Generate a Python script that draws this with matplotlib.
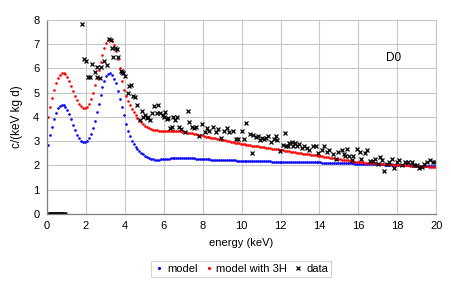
import matplotlib
matplotlib.use("Agg")
import matplotlib.pyplot as plt
import numpy as np

plt.rcParams['font.family'] = ['Liberation Sans', 'DejaVu Sans']

# energy grid of the model curves (keV), bin centres every 0.1 keV
energy_model = np.round(np.arange(0.05, 20.0, 0.1), 2)

model = [
    2.85, 3.25, 3.60, 3.92, 4.17, 4.35, 4.46, 4.50, 4.48, 4.40,
    4.27, 4.10, 3.90, 3.68, 3.47, 3.27, 3.11, 3.00, 2.95, 2.95,
    3.00, 3.12, 3.30, 3.55, 3.85, 4.20, 4.55, 4.90, 5.22, 5.50,
    5.68, 5.79, 5.80, 5.72, 5.58, 5.38, 5.08, 4.74, 4.40, 4.06,
    3.72, 3.43, 3.22, 3.02, 2.88, 2.76, 2.67, 2.60, 2.52, 2.45,
    2.39, 2.34, 2.30, 2.27, 2.25, 2.24, 2.24, 2.24, 2.25, 2.25,
    2.26, 2.27, 2.28, 2.29, 2.30, 2.30, 2.31, 2.31, 2.31, 2.31,
    2.31, 2.30, 2.30, 2.30, 2.29, 2.29, 2.28, 2.28, 2.27, 2.27,
    2.26, 2.26, 2.25, 2.25, 2.24, 2.24, 2.24, 2.23, 2.23, 2.23,
    2.22, 2.22, 2.22, 2.21, 2.21, 2.21, 2.21, 2.20, 2.20, 2.20,
    2.20, 2.20, 2.19, 2.19, 2.19, 2.19, 2.18, 2.18, 2.18, 2.18,
    2.17, 2.17, 2.17, 2.17, 2.17, 2.16, 2.16, 2.16, 2.16, 2.16,
    2.16, 2.15, 2.15, 2.15, 2.15, 2.15, 2.14, 2.14, 2.14, 2.14,
    2.14, 2.13, 2.13, 2.13, 2.13, 2.13, 2.12, 2.12, 2.12, 2.12,
    2.12, 2.11, 2.11, 2.11, 2.11, 2.10, 2.10, 2.10, 2.10, 2.10,
    2.09, 2.09, 2.09, 2.09, 2.08, 2.08, 2.08, 2.08, 2.07, 2.07,
    2.07, 2.07, 2.06, 2.06, 2.06, 2.06, 2.05, 2.05, 2.05, 2.05,
    2.04, 2.04, 2.04, 2.03, 2.03, 2.03, 2.03, 2.02, 2.02, 2.02,
    2.02, 2.01, 2.01, 2.01, 2.00, 2.00, 2.00, 2.00, 1.99, 1.99,
    1.99, 1.98, 1.98, 1.98, 1.97, 1.97, 1.97, 1.96, 1.96, 1.96,
]

model_3h = [
    4.00, 4.40, 4.80, 5.12, 5.40, 5.60, 5.73, 5.80, 5.80, 5.75,
    5.63, 5.47, 5.28, 5.08, 4.88, 4.70, 4.55, 4.43, 4.37, 4.37,
    4.42, 4.55, 4.75, 5.00, 5.30, 5.62, 5.95, 6.27, 6.57, 6.85,
    7.05, 7.18, 7.20, 7.12, 6.95, 6.72, 6.40, 6.00, 5.50, 5.11,
    4.88, 4.66, 4.48, 4.32, 4.20, 4.08, 3.97, 3.87, 3.79, 3.71,
    3.63, 3.58, 3.54, 3.51, 3.48, 3.46, 3.44, 3.43, 3.43, 3.42,
    3.42, 3.42, 3.42, 3.42, 3.42, 3.42, 3.41, 3.41, 3.40, 3.39,
    3.38, 3.37, 3.35, 3.34, 3.32, 3.31, 3.29, 3.27, 3.26, 3.24,
    3.21, 3.19, 3.18, 3.16, 3.14, 3.13, 3.11, 3.09, 3.08, 3.06,
    3.04, 3.03, 3.01, 2.99, 2.98, 2.96, 2.94, 2.93, 2.91, 2.90,
    2.88, 2.87, 2.86, 2.84, 2.83, 2.82, 2.81, 2.79, 2.78, 2.77,
    2.76, 2.74, 2.73, 2.72, 2.71, 2.69, 2.68, 2.67, 2.66, 2.64,
    2.63, 2.62, 2.61, 2.59, 2.58, 2.57, 2.56, 2.54, 2.53, 2.52,
    2.51, 2.49, 2.48, 2.47, 2.46, 2.44, 2.43, 2.42, 2.41, 2.39,
    2.38, 2.37, 2.36, 2.34, 2.33, 2.32, 2.31, 2.29, 2.28, 2.27,
    2.26, 2.24, 2.23, 2.22, 2.21, 2.19, 2.18, 2.17, 2.16, 2.15,
    2.14, 2.13, 2.12, 2.11, 2.11, 2.10, 2.09, 2.09, 2.08, 2.08,
    2.07, 2.07, 2.06, 2.06, 2.05, 2.05, 2.04, 2.04, 2.03, 2.03,
    2.02, 2.02, 2.01, 2.01, 2.00, 2.00, 1.99, 1.99, 1.98, 1.98,
    1.98, 1.97, 1.97, 1.96, 1.96, 1.96, 1.95, 1.95, 1.95, 1.94,
]

# measured points
energy_data = [
    0.05, 0.10, 0.15, 0.20, 0.25, 0.30, 0.35, 0.40, 0.45, 0.50,
    0.55, 0.60, 0.65, 0.70, 0.75, 0.80, 0.85, 0.90,
    1.78, 1.90, 2.00, 2.12, 2.21, 2.30, 2.48, 2.55, 2.59, 2.72,
    2.79, 2.93, 3.10, 3.20, 3.30, 3.32, 3.41, 3.50, 3.58, 3.67,
    3.80, 3.84, 3.92, 4.01, 4.15, 4.22, 4.32, 4.44, 4.52, 4.61,
    4.78, 4.87, 4.95, 5.04, 5.12, 5.21, 5.30, 5.38, 5.52, 5.64,
    5.69, 5.81, 5.98, 6.02, 6.07, 6.19, 6.23, 6.33, 6.42, 6.50,
    6.58, 6.67, 6.80, 6.91, 7.09, 7.23, 7.32, 7.44, 7.56, 7.66,
    7.83, 7.95, 8.12, 8.24, 8.35, 8.55, 8.69, 8.81, 8.93, 9.10,
    9.24, 9.37, 9.55, 9.72, 9.84, 10.00, 10.14, 10.24, 10.45, 10.53,
    10.61, 10.75, 10.86, 10.95, 11.04, 11.16, 11.26, 11.38, 11.50, 11.64,
    11.78, 11.84, 11.98, 12.12, 12.24, 12.30, 12.36, 12.46, 12.58, 12.63,
    12.75, 12.84, 12.97, 13.09, 13.20, 13.34, 13.48, 13.65, 13.82, 13.94,
    14.11, 14.23, 14.37, 14.50, 14.68, 14.85, 14.97, 15.14, 15.26, 15.32,
    15.43, 15.54, 15.66, 15.75, 15.92, 16.06, 16.13, 16.35, 16.44, 16.61,
    16.75, 16.87, 16.99, 17.09, 17.21, 17.33, 17.47, 17.60, 17.72, 17.84,
    17.98, 18.11, 18.23, 18.40, 18.57, 18.75, 18.87, 19.00, 19.14, 19.26,
    19.38, 19.52, 19.66, 19.83, 19.95,
]
rate_data = [
    0, 0, 0, 0, 0, 0, 0, 0, 0, 0,
    0, 0, 0, 0, 0, 0, 0, 0,
    7.82, 6.38, 6.32, 5.66, 5.66, 6.17, 5.84, 5.66, 6.07, 5.60,
    6.07, 6.31, 6.14, 7.20, 7.19, 6.83, 6.49, 6.83, 6.80, 6.49,
    5.90, 5.84, 5.80, 5.70, 5.00, 5.28, 5.32, 4.86, 4.84, 4.49,
    3.87, 4.26, 4.01, 4.08, 3.94, 4.01, 3.87, 4.15, 4.43, 4.18,
    4.50, 4.18, 4.08, 4.01, 4.21, 3.92, 3.97, 3.53, 3.60, 3.98,
    3.88, 4.00, 3.60, 3.50, 3.39, 4.25, 3.78, 3.57, 3.53, 3.57,
    3.23, 3.70, 3.39, 3.53, 3.43, 3.60, 3.37, 3.51, 3.12, 3.42,
    3.53, 3.37, 3.42, 3.09, 3.09, 3.42, 3.09, 3.74, 3.28, 2.50,
    3.26, 3.19, 3.23, 3.05, 3.15, 3.09, 3.15, 3.23, 2.95, 3.09,
    3.23, 3.05, 2.60, 2.84, 3.32, 2.78, 2.78, 2.91, 2.95, 2.78,
    2.91, 2.78, 2.87, 2.71, 2.78, 2.71, 2.64, 2.81, 2.81, 2.50,
    2.64, 2.78, 2.54, 2.64, 2.46, 2.27, 2.57, 2.64, 2.46, 2.40,
    2.67, 2.40, 2.22, 2.40, 2.68, 2.54, 2.27, 2.50, 2.64, 2.19,
    2.19, 2.27, 2.05, 2.36, 2.23, 1.77, 2.05, 2.16, 2.27, 1.88,
    2.13, 2.23, 2.00, 2.16, 2.16, 2.13, 2.02, 2.00, 1.91, 1.95,
    2.05, 2.16, 2.23, 2.16, 2.16,
]

fig = plt.figure(figsize=(4.52, 2.89), dpi=100)
ax = fig.add_axes([0.104, 0.26, 0.861, 0.671])

ax.plot(energy_model, model, 'o', color='#0000ff', ms=1.9, mew=0, label='model')
ax.plot(energy_model, model_3h, 'o', color='#ff0000', ms=1.9, mew=0, label='model with 3H')
ax.plot(energy_data, rate_data, 'x', color='black', ms=2.8, mew=0.9, label='data')

ax.set_xlim(0, 20)
ax.set_ylim(0, 8)
ax.set_xticks(range(0, 21, 2))
ax.set_yticks(range(0, 9))
ax.grid(True, color='#c8c8c8', linewidth=0.8)
ax.set_axisbelow(True)
ax.tick_params(length=0, labelsize=8, pad=5.5)
for side in ['top', 'right']:
    ax.spines[side].set_color('#c8c8c8')
    ax.spines[side].set_linewidth(0.8)
for side in ['left', 'bottom']:
    ax.spines[side].set_color('#808080')
    ax.spines[side].set_linewidth(0.9)

ax.set_xlabel('energy (keV)', fontsize=8, labelpad=5)
ax.set_ylabel('c/(keV kg d)', fontsize=8.5, labelpad=7)
ax.text(17.4, 6.43, 'D0', fontsize=8.5, va='center', ha='left')

leg = fig.legend(loc='center', bbox_to_anchor=(0.534, 0.069), ncol=3, fontsize=8,
                 frameon=True, fancybox=False, edgecolor='#c8c8c8', handlelength=0.8,
                 handletextpad=0.3, columnspacing=0.6, borderpad=0.3, markerscale=1.2)
leg.get_frame().set_linewidth(0.8)

fig.savefig('out.png', dpi=100)
